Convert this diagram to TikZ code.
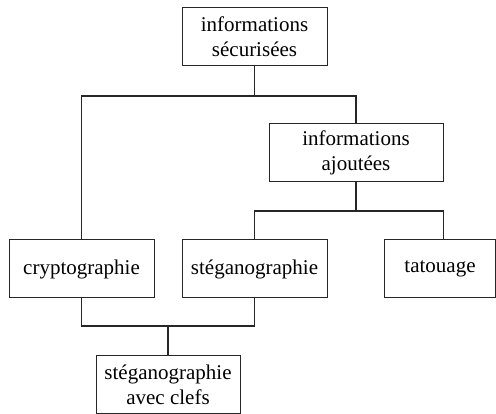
\documentclass[tikz,border=0pt]{standalone}
\usepackage{fontspec}
\setmainfont{Liberation Serif}
\begin{document}
\begin{tikzpicture}[x=1pt,y=-1pt,
  box/.style={draw=black!85, line width=1pt, rectangle, align=center, inner sep=0pt,
    font=\fontsize{21}{25}\selectfont, minimum height=58pt},
  link/.style={draw=black!85, line width=1.05pt}]
\useasboundingbox (0,0) rectangle (496,414);
\node[box, minimum width=145pt] (top) at (254.5,37) {informations\\sécurisées};
\node[box, minimum width=174pt] (ajout) at (356,153) {informations\\ajoutées};
\node[box, minimum width=145pt] (crypto) at (81.5,269) {cryptographie};
\node[box, minimum width=145pt] (steg) at (254.5,269) {stéganographie};
\node[box, minimum width=111pt] (tat) at (440,269) {tatouage};
\node[box, minimum width=144pt] (clef) at (168,385) {stéganographie\\avec clefs};
\coordinate (j1) at (254.5,96);
\coordinate (j2) at (356,211);
\coordinate (j3) at (168,326);
\draw[link] (top) -- (j1);
\draw[link] (crypto.north) |- (j1) -| (ajout.north);
\draw[link] (ajout) -- (j2);
\draw[link] (steg.north) |- (j2) -| (ajout.east |- tat.north);
\draw[link] (crypto.south) |- (j3) -| (steg.south);
\draw[link] (j3) -- (clef);
\end{tikzpicture}
\end{document}
